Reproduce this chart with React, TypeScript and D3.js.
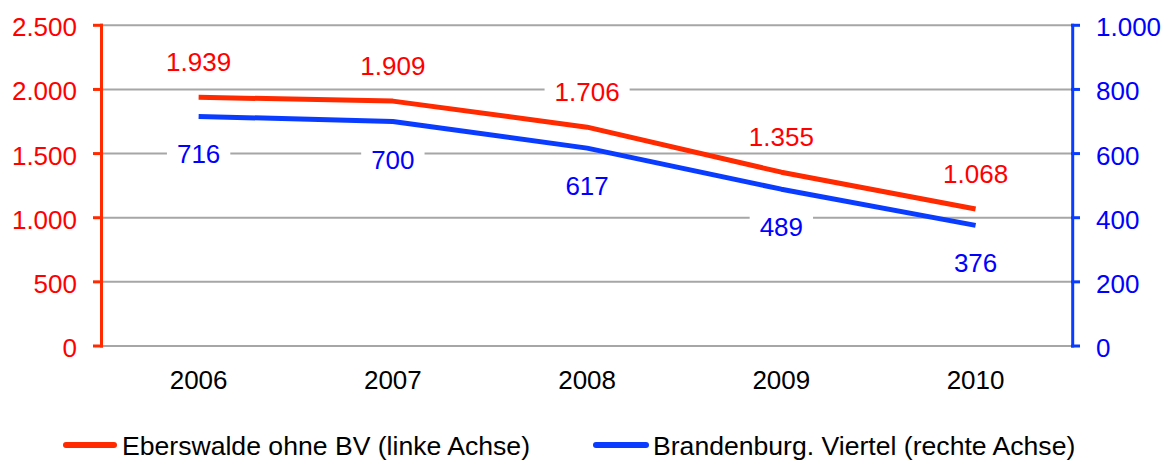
import React from "react";
import * as d3 from "d3";

const years = ["2006", "2007", "2008", "2009", "2010"];
const eberswalde = [1939, 1909, 1706, 1355, 1068];
const brandenburg = [716, 700, 617, 489, 376];
const leftTicks = [0, 500, 1000, 1500, 2000, 2500];
const rightTicks = [0, 200, 400, 600, 800, 1000];
const legendLabels = ["Eberswalde ohne BV (linke Achse)", "Brandenburg. Viertel (rechte Achse)"];

const W = 1163;
const H = 461;
const FONT = "'Liberation Sans', Arial, Helvetica, sans-serif";
const FS = 26;
const LFS = 26.6;

const RED_LINE = "#ff2a00";
const RED_TEXT = "#ff0000";
const BLUE_LINE = "#0a3cff";
const BLUE_TEXT = "#0000ff";
const GRID = "#a6a6a6";

const de = d3.formatLocale({ decimal: ",", thousands: ".", grouping: [3], currency: ["", " €"] });
const fmt = de.format(",d");

function textWidth(s: string) {
  // approximate Arial widths
  let w = 0;
  for (const c of s) w += c === "." ? 0.278 : 0.556;
  return w * FS;
}

export default function App() {
  const x = d3.scaleBand<string>().domain(years).range([101.5, 1072.7]).padding(0);
  const yL = d3.scaleLinear().domain([0, 2500]).range([346, 25.3]);
  const yR = d3.scaleLinear().domain([0, 1000]).range([346, 25.3]);
  const cx = (d: string) => (x(d) as number) + x.bandwidth() / 2;

  const lineL = d3
    .line<number>()
    .x((_, i) => cx(years[i]))
    .y((v) => yL(v));
  const lineR = d3
    .line<number>()
    .x((_, i) => cx(years[i]))
    .y((v) => yR(v));

  const labels = (vals: number[], y: (v: number) => number, dy: number, color: string, key: string) =>
    vals.map((v, i) => {
      const s = fmt(v);
      const tw = textWidth(s);
      const px = cx(years[i]);
      const py = y(v) + dy;
      return (
        <g key={key + i}>
          <rect x={px - tw / 2 - 10} y={py - 14} width={tw + 20} height={28} fill="#fff" />
          <text x={px} y={py + 9} textAnchor="middle" fill={color} fontSize={FS} fontFamily={FONT}>
            {s}
          </text>
        </g>
      );
    });

  return (
    <svg width={W} height={H} style={{ position: "absolute", left: 0, top: 0, background: "#fff" }}>
      <rect width={W} height={H} fill="#fff" />
      {/* gridlines */}
      {leftTicks.map((t) => (
        <line key={"g" + t} x1={103} x2={1071} y1={yL(t)} y2={yL(t)} stroke={GRID} strokeWidth={2} />
      ))}
      {/* left axis */}
      <line x1={101.5} x2={101.5} y1={yL(2500) - 1.5} y2={yL(0) + 1.5} stroke={RED_LINE} strokeWidth={3} />
      {leftTicks.map((t) => (
        <g key={"l" + t}>
          <line x1={93} x2={103} y1={yL(t)} y2={yL(t)} stroke={RED_LINE} strokeWidth={3} />
          <text x={77} y={yL(t) + 11} textAnchor="end" fill={RED_TEXT} fontSize={FS} fontFamily={FONT}>
            {fmt(t)}
          </text>
        </g>
      ))}
      {/* right axis */}
      <line x1={1072.7} x2={1072.7} y1={yR(1000) - 1.5} y2={yR(0) + 1.5} stroke={BLUE_LINE} strokeWidth={3} />
      {rightTicks.map((t) => (
        <g key={"r" + t}>
          <line x1={1071} x2={1080} y1={yR(t)} y2={yR(t)} stroke={BLUE_LINE} strokeWidth={3} />
          <text x={1096} y={yR(t) + 11} textAnchor="start" fill={BLUE_TEXT} fontSize={FS} fontFamily={FONT}>
            {fmt(t)}
          </text>
        </g>
      ))}
      {/* category labels */}
      {years.map((yv) => (
        <text key={"c" + yv} x={cx(yv)} y={389} textAnchor="middle" fill="#000" fontSize={FS} fontFamily={FONT}>
          {yv}
        </text>
      ))}
      {/* lines */}
      <path d={lineL(eberswalde) || ""} fill="none" stroke={RED_LINE} strokeWidth={5} strokeLinejoin="round" />
      <path d={lineR(brandenburg) || ""} fill="none" stroke={BLUE_LINE} strokeWidth={5} strokeLinejoin="round" />
      {/* data labels */}
      {labels(eberswalde, yL, -35, RED_TEXT, "e")}
      {labels(brandenburg, yR, 38, BLUE_TEXT, "b")}
      {/* legend */}
      <line x1={66} x2={114} y1={445} y2={445} stroke={RED_LINE} strokeWidth={6} strokeLinecap="round" />
      <text x={122} y={455} fill="#000" fontSize={LFS} fontFamily={FONT}>
        {legendLabels[0]}
      </text>
      <line x1={596} x2={646} y1={445} y2={445} stroke={BLUE_LINE} strokeWidth={6} strokeLinecap="round" />
      <text x={653} y={455} fill="#000" fontSize={LFS} fontFamily={FONT}>
        {legendLabels[1]}
      </text>
    </svg>
  );
}
